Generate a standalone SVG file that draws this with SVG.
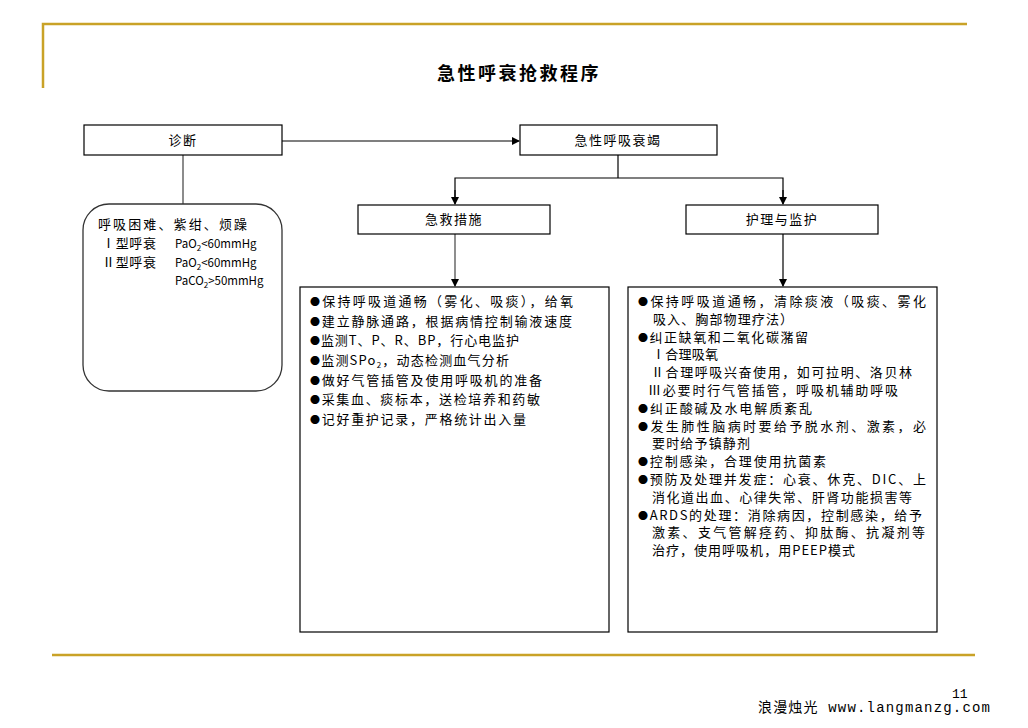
<svg xmlns="http://www.w3.org/2000/svg" width="1028" height="728" viewBox="0 0 1028 728">
<defs>
<style>
.t{font-family:"Noto Sans CJK SC","Noto Sans",sans-serif;font-size:13px;fill:#000;}
.lbl{font-family:"Noto Sans CJK SC","Noto Sans",sans-serif;font-size:13px;fill:#000;text-anchor:middle;letter-spacing:1.5px;}
.box{fill:#fff;stroke:#000;stroke-width:1.2;}
.gold{stroke:#C9A227;stroke-width:2.5;fill:none;}
.ln{stroke:#000;stroke-width:1.2;fill:none;}
.lt,.rt{font-family:"Noto Sans CJK SC",sans-serif;font-size:13px;}
.b{font-size:10px;}
</style>
<marker id="arr" markerWidth="8" markerHeight="8" refX="7" refY="4" orient="auto" markerUnits="userSpaceOnUse">
<path d="M0,0 L8,4 L0,8 Z" fill="#000"/>
</marker>
</defs>
<rect width="1028" height="728" fill="#fff"/>
<g id="frame">
<path class="gold" d="M43,88 L43,24 L967,24"/>
<line class="gold" x1="52" y1="655" x2="975" y2="655"/>
</g>
<text x="519" y="80" text-anchor="middle" style="font-family:'Noto Sans CJK SC',sans-serif;font-size:18px;font-weight:bold;letter-spacing:2.5px">急性呼衰抢救程序</text>
<g id="connectors">
<line x1="183" y1="155" x2="183" y2="204" stroke="#666" stroke-width="1.5"/>
<line class="ln" x1="282" y1="141" x2="519" y2="141" marker-end="url(#arr)"/>
<line class="ln" x1="618" y1="155" x2="618" y2="178"/>
<polyline class="ln" points="455,200 455,178 783,178 783,200"/>
<line class="ln" x1="455" y1="190" x2="455" y2="204" marker-end="url(#arr)"/>
<line class="ln" x1="783" y1="190" x2="783" y2="204" marker-end="url(#arr)"/>
<line x1="455" y1="234" x2="455" y2="286" stroke="#444" stroke-width="1.2" marker-end="url(#arr)"/>
<line class="ln" x1="783" y1="234" x2="783" y2="286" marker-end="url(#arr)"/>
</g>
<g id="n-diag">
<rect class="box" x="84" y="125" width="198" height="30"/>
<text class="lbl" x="183" y="145">诊断</text>
</g>
<g id="n-arf">
<rect class="box" x="520" y="125" width="197" height="30"/>
<text class="lbl" x="618" y="145">急性呼吸衰竭</text>
</g>
<g id="n-emerg">
<rect class="box" x="358" y="205" width="192" height="29"/>
<text class="lbl" x="454" y="224">急救措施</text>
</g>
<g id="n-care">
<rect class="box" x="686" y="205" width="192" height="29"/>
<text class="lbl" x="782" y="224">护理与监护</text>
</g>
<g id="n-symptoms">
<rect x="83" y="204" width="199" height="187" rx="26" ry="26" fill="#fff" stroke="#333" stroke-width="1.3"/>
<text class="t" x="98" y="229" textLength="149" lengthAdjust="spacing">呼吸困难、紫绀、烦躁</text>
<text class="t" x="102" y="248" textLength="54" lengthAdjust="spacing">Ⅰ型呼衰</text>
<text class="t" x="102" y="267" textLength="54" lengthAdjust="spacing">Ⅱ型呼衰</text>
<text class="t" x="175" y="248" style="font-size:11.5px">PaO<tspan font-size="8" dy="3">2</tspan><tspan dy="-3">&lt;60mmHg</tspan></text>
<text class="t" x="175" y="267" style="font-size:11.5px">PaO<tspan font-size="8" dy="3">2</tspan><tspan dy="-3">&lt;60mmHg</tspan></text>
<text class="t" x="175" y="285" style="font-size:11.5px">PaCO<tspan font-size="8" dy="3">2</tspan><tspan dy="-3">&gt;50mmHg</tspan></text>
</g>
<g id="n-emerg-detail">
<rect class="box" x="300" y="287" width="309" height="345"/>
<text class="lt" x="310" y="306" textLength="263" lengthAdjust="spacing"><tspan class="b">●</tspan>保持呼吸道通畅（雾化、吸痰），给氧</text>
<text class="lt" x="310" y="326" textLength="262" lengthAdjust="spacing"><tspan class="b">●</tspan>建立静脉通路，根据病情控制输液速度</text>
<text class="lt" x="310" y="345" textLength="209" lengthAdjust="spacing"><tspan class="b">●</tspan>监测T、P、R、BP，行心电监护</text>
<text class="lt" x="310" y="365" textLength="199" lengthAdjust="spacing"><tspan class="b">●</tspan>监测SPo<tspan font-size="8" dy="3">2</tspan><tspan dy="-3">，动态检测血气分析</tspan></text>
<text class="lt" x="310" y="385" textLength="232" lengthAdjust="spacing"><tspan class="b">●</tspan>做好气管插管及使用呼吸机的准备</text>
<text class="lt" x="310" y="404" textLength="230" lengthAdjust="spacing"><tspan class="b">●</tspan>采集血、痰标本，送检培养和药敏</text>
<text class="lt" x="310" y="424" textLength="216" lengthAdjust="spacing"><tspan class="b">●</tspan>记好重护记录，严格统计出入量</text>
</g>
<g id="n-care-detail">
<rect class="box" x="628" y="287" width="309" height="345"/>
<text class="rt" x="638" y="306" textLength="288" lengthAdjust="spacing"><tspan class="b">●</tspan>保持呼吸道通畅，清除痰液（吸痰、雾化</text>
<text class="rt" x="653" y="323.8" textLength="140" lengthAdjust="spacing">吸入、胸部物理疗法）</text>
<text class="rt" x="638" y="341.6" textLength="170" lengthAdjust="spacing"><tspan class="b">●</tspan>纠正缺氧和二氧化碳潴留</text>
<text class="rt" x="652" y="359.4" textLength="66" lengthAdjust="spacing">Ⅰ合理吸氧</text>
<text class="rt" x="651" y="377.2" textLength="261" lengthAdjust="spacing">Ⅱ合理呼吸兴奋使用，如可拉明、洛贝林</text>
<text class="rt" x="648" y="395" textLength="250" lengthAdjust="spacing">Ⅲ必要时行气管插管，呼吸机辅助呼吸</text>
<text class="rt" x="638" y="412.8" textLength="174" lengthAdjust="spacing"><tspan class="b">●</tspan>纠正酸碱及水电解质紊乱</text>
<text class="rt" x="638" y="430.6" textLength="288" lengthAdjust="spacing"><tspan class="b">●</tspan>发生肺性脑病时要给予脱水剂、激素，必</text>
<text class="rt" x="652" y="448.4" textLength="98" lengthAdjust="spacing">要时给予镇静剂</text>
<text class="rt" x="638" y="466.2" textLength="188" lengthAdjust="spacing"><tspan class="b">●</tspan>控制感染，合理使用抗菌素</text>
<text class="rt" x="638" y="484" textLength="288" lengthAdjust="spacing"><tspan class="b">●</tspan>预防及处理并发症：心衰、休克、DIC、上</text>
<text class="rt" x="652" y="501.8" textLength="260" lengthAdjust="spacing">消化道出血、心律失常、肝肾功能损害等</text>
<text class="rt" x="638" y="519.6" textLength="284" lengthAdjust="spacing"><tspan class="b">●</tspan>ARDS的处理：消除病因，控制感染，给予</text>
<text class="rt" x="652" y="537.4" textLength="273" lengthAdjust="spacing">激素、支气管解痉药、抑肽酶、抗凝剂等</text>
<text class="rt" x="652" y="555.2" textLength="203" lengthAdjust="spacing">治疗，使用呼吸机，用PEEP模式</text>
</g>
<g id="footer">
<text x="952" y="698" style="font-family:'Liberation Mono',monospace;font-size:13px">11</text>
<text x="758" y="712" textLength="232" lengthAdjust="spacing" style="font-family:'Liberation Mono','Noto Sans CJK SC',monospace;font-size:14px">浪漫烛光 www.langmanzg.com</text>
</g>
</svg>
